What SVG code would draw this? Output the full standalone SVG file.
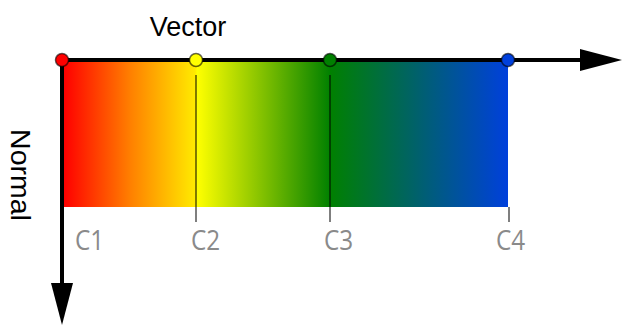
<svg xmlns="http://www.w3.org/2000/svg" width="622" height="326" viewBox="0 0 622 326">
  <style>
    .axis { stroke: #000; stroke-width: 4; fill: none; }
    .tick { stroke: #000; stroke-opacity: 0.5; stroke-width: 2; }
    .lbl { font-family: "Open Sans", "Noto Sans", sans-serif; font-size: 27px; fill: #8a8a8a; }
    .title { font-family: "Liberation Sans", Arial, sans-serif; font-size: 27px; fill: #000; }
    .dot { stroke: #000; stroke-opacity: 0.6; stroke-width: 1.5; }
  </style>
  <defs>
    <linearGradient id="grad" x1="64" y1="0" x2="508" y2="0" gradientUnits="userSpaceOnUse">
      <stop offset="0" stop-color="#ff0000"/>
      <stop offset="0.15" stop-color="#ff8000"/>
      <stop offset="0.295" stop-color="#ffea00"/>
      <stop offset="0.3" stop-color="#ffff00"/>
      <stop offset="0.6" stop-color="#008000"/>
      <stop offset="1" stop-color="#0040dc"/>
    </linearGradient>
    <marker id="arrow" markerUnits="userSpaceOnUse" markerWidth="44" markerHeight="24" viewBox="0 -12 44 24" refX="20" refY="0" orient="auto">
      <path d="M0,-11 L42,0 L0,11 Z" fill="#000"/>
    </marker>
  </defs>

  <g id="band">
    <rect x="62" y="60" width="446" height="147" fill="url(#grad)"/>
  </g>

  <g id="connectors">
    <line class="tick" x1="196" y1="75" x2="196" y2="222"/>
    <line class="tick" x1="330" y1="75" x2="330" y2="222"/>
    <line class="tick" x1="509" y1="207" x2="509" y2="222"/>
    <line class="axis" x1="62" y1="60" x2="600" y2="60" marker-end="url(#arrow)"/>
    <line class="axis" x1="62" y1="60" x2="62" y2="303" marker-end="url(#arrow)"/>
  </g>

  <g id="c1">
    <circle class="dot" cx="62" cy="60" r="6.5" fill="#ff0000"/>
    <text class="lbl" transform="translate(75,250) scale(0.9,1)">C1</text>
  </g>
  <g id="c2">
    <circle class="dot" cx="196" cy="60" r="6.5" fill="#ffff00"/>
    <text class="lbl" transform="translate(191,250) scale(0.9,1)">C2</text>
  </g>
  <g id="c3">
    <circle class="dot" cx="330" cy="60" r="6.5" fill="#008000"/>
    <text class="lbl" transform="translate(324,250) scale(0.9,1)">C3</text>
  </g>
  <g id="c4">
    <circle class="dot" cx="508" cy="60" r="6.5" fill="#0040dc"/>
    <text class="lbl" transform="translate(496,250) scale(0.9,1)">C4</text>
  </g>

  <g id="vector">
    <text class="title" x="188" y="36" text-anchor="middle">Vector</text>
  </g>
  <g id="normal">
    <text class="title" transform="translate(11,175) rotate(90)" text-anchor="middle" style="font-size:28.5px">Normal</text>
  </g>
</svg>
